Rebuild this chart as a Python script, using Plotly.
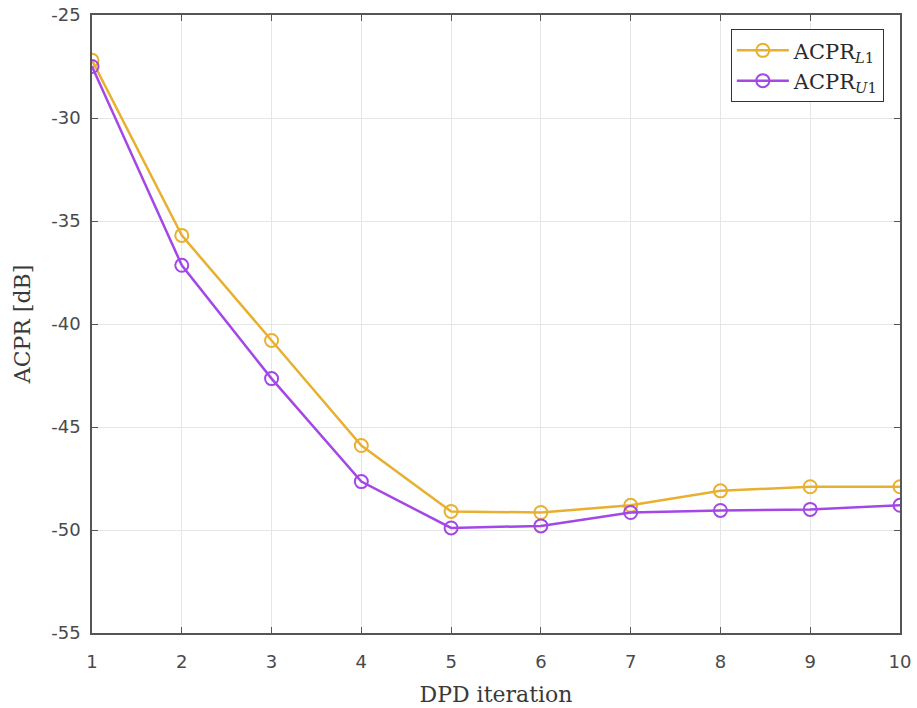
import plotly.graph_objects as go

iterations = [1, 2, 3, 4, 5, 6, 7, 8, 9, 10]
acpr_l1 = [-27.2, -35.7, -40.8, -45.9, -49.1, -49.15, -48.8, -48.1, -47.9, -47.9]
acpr_u1 = [-27.5, -37.15, -42.65, -47.65, -49.9, -49.8, -49.15, -49.05, -49.0, -48.8]
y_ticks = [-55, -50, -45, -40, -35, -30, -25]
y_tick_labels = ["-55", "-50", "-45", "-40", "-35", "-30", "-25"]

yellow = "#E8B030"
purple = "#A347E6"

fig = go.Figure()
fig.add_trace(go.Scatter(
    x=iterations, y=acpr_l1, mode="lines+markers",
    name="ACPR<sub><i>L</i>1</sub>",
    line=dict(color=yellow, width=2.5),
    marker=dict(symbol="circle-open", size=13, color=yellow, line=dict(width=2)),
))
fig.add_trace(go.Scatter(
    x=iterations, y=acpr_u1, mode="lines+markers",
    name="ACPR<sub><i>U</i>1</sub>",
    line=dict(color=purple, width=2.5),
    marker=dict(symbol="circle-open", size=13, color=purple, line=dict(width=2)),
))

axis_common = dict(
    showgrid=True, gridcolor="#E6E6E6", gridwidth=1,
    showline=True, linecolor="#555555", linewidth=1.5, mirror="ticks",
    ticks="inside", ticklen=6, tickcolor="#555555",
    tickfont=dict(family="DejaVu Sans, sans-serif", size=18, color="#4A4A4A"),
    zeroline=False, ticklabeloverflow="allow", automargin=False,
)

serif = "DejaVu Serif, Liberation Serif, serif"

fig.update_layout(
    width=917, height=708,
    margin=dict(l=92, r=17, t=15, b=75),
    paper_bgcolor="white", plot_bgcolor="white",
    xaxis=dict(range=[1, 10], tickvals=iterations, ticklabelstandoff=12,
               title=dict(text="DPD iteration",
                          font=dict(family=serif, size=22, color="#3A3A3A")),
               **axis_common),
    yaxis=dict(range=[-55, -25], tickvals=y_ticks, ticktext=y_tick_labels,
               ticklabelstandoff=6,
               title=dict(text="ACPR [dB]",
                          font=dict(family=serif, size=22, color="#3A3A3A")),
               **axis_common),
    legend=dict(x=0.98, y=0.977, xanchor="right", yanchor="top",
                bgcolor="white", bordercolor="#333333", borderwidth=1,
                font=dict(family=serif, size=21, color="#2A2A2A"),
                tracegroupgap=0, itemwidth=52),
    showlegend=True,
)

fig.write_html("out.html", config={"displayModeBar": False},
               post_script="document.body.style.margin='0';")
